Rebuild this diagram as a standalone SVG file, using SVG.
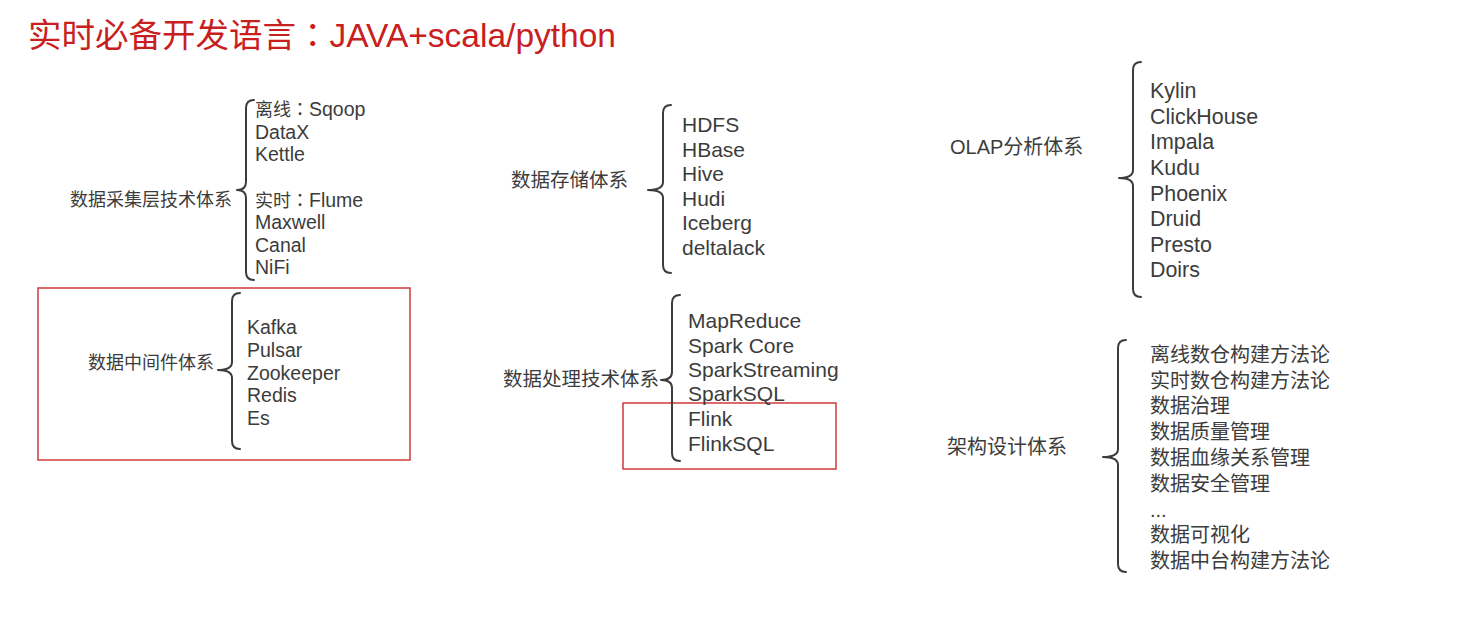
<svg xmlns="http://www.w3.org/2000/svg" width="1472" height="620" viewBox="0 0 1472 620">
<style>
text{font-family:"Liberation Sans","Noto Sans CJK SC",sans-serif;fill:#3c3c3c}
.cjk{font-family:"Noto Sans CJK SC",sans-serif}
.colon{font-family:"Noto Sans CJK TC",sans-serif}
.title{fill:#c8201e;font-size:33.5px}
.title .colon{fill:#c8201e}
.s18{font-size:18px}.s19{font-size:19.5px}.s20{font-size:20px}.s21{font-size:21px}.s21b{font-size:21.4px}
.brace{fill:none;stroke:#3c3c3c;stroke-width:2;stroke-linecap:round;stroke-linejoin:round}
.box{fill:none;stroke:#d03a3a;stroke-width:1.5}
</style>
<rect width="1472" height="620" fill="#ffffff"/>
<g id="title"><text class="title" x="28" y="47"><tspan class="cjk">实时必备开发语言</tspan><tspan class="colon">：</tspan>JAVA+scala/python</text></g>

<g id="collection">
<text class="s18 cjk" x="70" y="206">数据采集层技术体系</text>
<g class="s19">
<text x="255" y="116"><tspan class="cjk" font-size="18">离线</tspan><tspan class="colon" font-size="18">：</tspan>Sqoop</text>
<text x="255" y="139">DataX</text>
<text x="255" y="161">Kettle</text>
<text x="255" y="207"><tspan class="cjk" font-size="18">实时</tspan><tspan class="colon" font-size="18">：</tspan>Flume</text>
<text x="255" y="229">Maxwell</text>
<text x="255" y="252">Canal</text>
<text x="255" y="274">NiFi</text>
</g>
</g>

<g id="middleware">
<rect class="box" x="38" y="288" width="372" height="172"/>
<text class="s18 cjk" x="88" y="369">数据中间件体系</text>
<g class="s19">
<text x="247" y="334">Kafka</text>
<text x="247" y="357">Pulsar</text>
<text x="247" y="380">Zookeeper</text>
<text x="247" y="402">Redis</text>
<text x="247" y="425">Es</text>
</g>
</g>

<g id="storage">
<text class="s19 cjk" x="511" y="187">数据存储体系</text>
<g class="s21">
<text x="682" y="132">HDFS</text>
<text x="682" y="157">HBase</text>
<text x="682" y="181">Hive</text>
<text x="682" y="206">Hudi</text>
<text x="682" y="230">Iceberg</text>
<text x="682" y="255">deltalack</text>
</g>
</g>

<g id="processing">
<rect class="box" x="623" y="403" width="213" height="66"/>
<text class="s19 cjk" x="503" y="386">数据处理技术体系</text>
<g class="s21">
<text x="688" y="328">MapReduce</text>
<text x="688" y="353">Spark Core</text>
<text x="688" y="377">SparkStreaming</text>
<text x="688" y="401">SparkSQL</text>
<text x="688" y="426">Flink</text>
<text x="688" y="451">FlinkSQL</text>
</g>
</g>

<g id="olap">
<text class="s20" x="950" y="154">OLAP<tspan class="cjk">分析体系</tspan></text>
<g class="s21b">
<text x="1150" y="98">Kylin</text>
<text x="1150" y="124">ClickHouse</text>
<text x="1150" y="149">Impala</text>
<text x="1150" y="175">Kudu</text>
<text x="1150" y="201">Phoenix</text>
<text x="1150" y="226">Druid</text>
<text x="1150" y="252">Presto</text>
<text x="1150" y="277">Doirs</text>
</g>
</g>

<g id="architecture">
<text class="s20 cjk" x="947" y="454">架构设计体系</text>
<g class="s20 cjk">
<text x="1150" y="362">离线数仓构建方法论</text>
<text x="1150" y="388">实时数仓构建方法论</text>
<text x="1150" y="413">数据治理</text>
<text x="1150" y="439">数据质量管理</text>
<text x="1150" y="465">数据血缘关系管理</text>
<text x="1150" y="491">数据安全管理</text>
<text x="1150" y="517">...</text>
<text x="1150" y="542">数据可视化</text>
<text x="1150" y="568">数据中台构建方法论</text>
</g>
</g>

<g id="connectors">
<path class="brace" d="M254,100 Q246,100 246,108 L246,182 Q246,190 237,190 Q246,190 246,198 L246,272 Q246,280 254,280"/>
<path class="brace" d="M240,293 Q232,293 232,301 L232,362 Q232,370 218,370 Q232,370 232,378 L232,441 Q232,449 240,449"/>
<path class="brace" d="M671,105 Q663,105 663,113 L663,182 Q663,190 648,190 Q663,190 663,198 L663,265 Q663,273 671,273"/>
<path class="brace" d="M680,295 Q672,295 672,303 L672,372 Q672,380 661,380 Q672,380 672,388 L672,453 Q672,461 680,461"/>
<path class="brace" d="M1141,62 Q1133,62 1133,70 L1133,170 Q1133,178 1119,178 Q1133,178 1133,186 L1133,289 Q1133,297 1141,297"/>
<path class="brace" d="M1126,340 Q1118,340 1118,348 L1118,449 Q1118,457 1103,457 Q1118,457 1118,465 L1118,564 Q1118,572 1126,572"/>
</g>
</svg>
